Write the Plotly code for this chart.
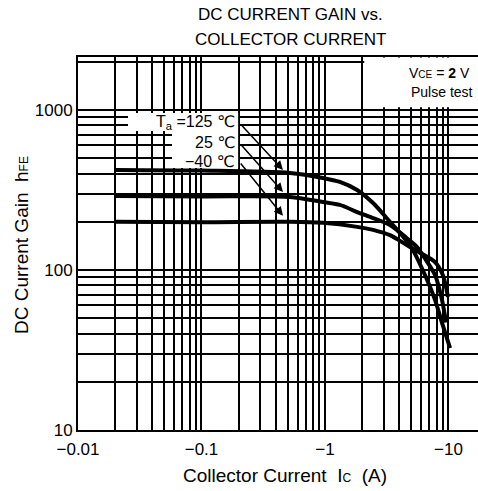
import math
import plotly.graph_objects as go

# ---- data ----
ic_125 = [0.02, 0.1, 0.52, 0.96, 1.32, 1.82, 2.45, 3.36, 4.28, 5.16, 6.45, 7.78, 9.0, 10.3]
hfe_125 = [422, 418, 404, 376, 355, 316, 262, 200, 162, 133, 93, 65, 45, 32.5]

ic_25 = [0.02, 0.1, 0.52, 0.96, 1.32, 1.82, 2.45, 3.36, 4.6, 5.56, 6.45, 7.78, 8.86, 9.55]
hfe_25 = [290, 288, 286, 266, 255, 230, 211, 191, 158, 139, 118, 93, 65, 47]

ic_m40 = [0.02, 0.1, 0.52, 0.96, 1.82, 2.45, 3.36, 4.6, 5.88, 7.78, 9.0, 9.9]
hfe_m40 = [200, 199, 200, 197, 186, 178, 165, 143, 128, 112, 93, 68]

x_major = [0.01, 0.1, 1, 10]
x_labels = ["\u22120.01", "\u22120.1", "\u22121", "\u221210"]
x_minor = [m * 10 ** e for e in (-2, -1, 0) for m in range(2, 10)]
y_major = [10, 100, 1000]
y_labels = ["10", "100", "1000"]
y_minor = [m * 10 ** e for e in (1, 2) for m in range(2, 10)] + [2000]

temp_labels = ["T<sub>a</sub> =125 \u2103", "25 \u2103", "\u221240 \u2103"]
label_hfe = [830, 622, 473]
arrow_tip_ic = [0.457, 0.457, 0.457]
arrow_tip_hfe = [422, 307, 218]
label_ic = 0.194

FONT = "Liberation Sans, Arial, DejaVu Sans, sans-serif"
L = math.log10
Y_TOP = 3.331


def px_x(px):
    return (px - 78) / 400


def px_y(py):
    return (430 - py) / 373


fig = go.Figure()
for xs, ys in ((ic_125, hfe_125), (ic_25, hfe_25), (ic_m40, hfe_m40)):
    fig.add_trace(go.Scatter(x=xs, y=ys, mode="lines",
                             line=dict(color="black", width=4, shape="spline", smoothing=0.8),
                             hoverinfo="skip", showlegend=False))

# white patches behind labels (cover grid, not curves)
fig.add_shape(type="rect", xref="x", yref="y", x0=0.0254, x1=0.198, y0=739, y1=957,
              fillcolor="white", line_width=0, layer="between")
fig.add_shape(type="rect", xref="x", yref="y", x0=0.0577, x1=0.198, y0=434, y1=739,
              fillcolor="white", line_width=0, layer="between")
fig.add_shape(type="rect", xref="x", yref="y", x0=2.08, x1=20, y0=1040, y1=2130,
              fillcolor="white", line_width=0, layer="between")

for txt, hy, tx, ty in zip(temp_labels, label_hfe, arrow_tip_ic, arrow_tip_hfe):
    fig.add_annotation(x=L(label_ic), y=L(hy), text=txt, showarrow=False, xanchor="right",
                       yanchor="middle", font=dict(family=FONT, size=16, color="black"))
    fig.add_annotation(x=L(tx), y=L(ty), ax=L(label_ic) + 0.02, ay=L(hy), axref="x", ayref="y",
                       xref="x", yref="y", text="", showarrow=True, arrowhead=2, arrowsize=1.2,
                       arrowwidth=1.5, arrowcolor="black", standoff=0)


def paper_text(px, py, text, size, angle=0):
    fig.add_annotation(xref="paper", yref="paper", x=px_x(px), y=px_y(py), text=text,
                       showarrow=False, xanchor="center", yanchor="middle", textangle=angle,
                       font=dict(family=FONT, size=size, color="black"))


paper_text(439, 73, "V<span style='font-size:10px'>CE</span> = <b>2</b> V", 14)
paper_text(442, 92, "Pulse test", 14)
paper_text(290, 15, "DC CURRENT GAIN vs.", 17)
paper_text(290, 40, "COLLECTOR CURRENT", 17)
paper_text(285, 475, "Collector Current  I<span style='font-size:12px'>C</span>  (A)", 19)
paper_text(21, 245, "DC Current Gain  h<span style='font-size:12px'>FE</span>", 19, angle=-90)

fig.update_xaxes(type="log", range=[-2, 1.239], tickmode="array", tickvals=x_major, ticktext=x_labels,
                 showgrid=True, gridcolor="black", gridwidth=2, ticks="", automargin=False,
                 ticklabelstandoff=3,
                 minor=dict(tickmode="array", tickvals=x_minor, showgrid=True, gridcolor="black", gridwidth=1.5),
                 showline=True, linecolor="black", linewidth=2, mirror=True, zeroline=False,
                 tickfont=dict(family=FONT, size=17, color="black"))
fig.update_yaxes(type="log", range=[1, Y_TOP], tickmode="array", tickvals=y_major, ticktext=y_labels,
                 showgrid=True, gridcolor="black", gridwidth=2, ticks="", automargin=False,
                 minor=dict(tickmode="array", tickvals=y_minor, showgrid=True, gridcolor="black", gridwidth=1.5),
                 showline=True, linecolor="black", linewidth=2, zeroline=False,
                 tickfont=dict(family=FONT, size=17, color="black"))

fig.update_layout(width=478, height=491, margin=dict(l=78, r=0, t=57, b=61, autoexpand=False),
                  plot_bgcolor="white", paper_bgcolor="white", showlegend=False)
fig.write_html("out.html", config={"displayModeBar": False},
               post_script="document.body.style.margin='0';")
